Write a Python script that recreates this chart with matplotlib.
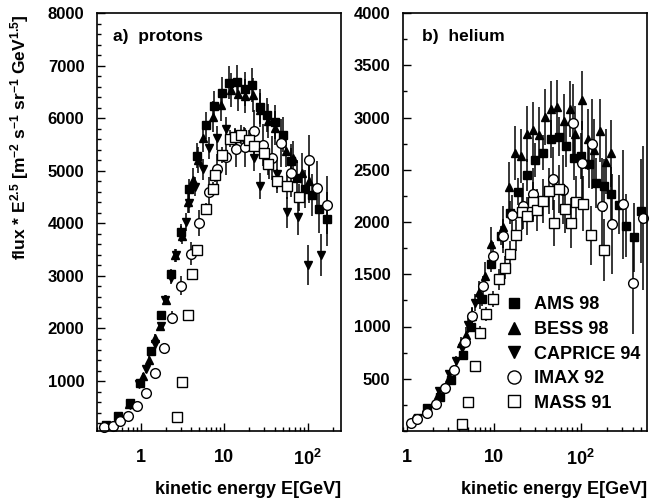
import matplotlib
matplotlib.use('Agg')
import matplotlib.pyplot as plt
from matplotlib.lines import Line2D
from matplotlib.ticker import MultipleLocator, LogLocator, NullFormatter

plt.rcParams['font.family'] = ['Liberation Sans', 'DejaVu Sans']
plt.rcParams['font.weight'] = 'bold'
plt.rcParams['mathtext.fontset'] = 'custom'
plt.rcParams['mathtext.rm'] = 'Liberation Sans:bold'
plt.rcParams['mathtext.bf'] = 'Liberation Sans:bold'
plt.rcParams['mathtext.default'] = 'bf'

# ---- protons ----
ams_p_e = [0.38, 0.54, 0.74, 0.97, 1.34, 1.76, 2.32, 3.05, 3.76, 4.68, 6.06, 7.6, 9.4, 11.4, 14.4,
           17.8, 21.8, 26.7, 32.7, 40.5, 50.4, 62.3, 74.6, 91.8, 113, 137, 170]
ams_p_f = [170, 340, 590, 968, 1579, 2258, 3030, 3843, 4647, 5289, 5862, 6232, 6485, 6673, 6692,
           6553, 6628, 6220, 6062, 5925, 5686, 5183, 4868, 4647, 4541, 4270, 4081]
ams_p_err = [15, 20, 30, 40, 60, 80, 110, 150, 200, 230, 260, 280, 300, 310, 320,
             330, 330, 330, 330, 330, 330, 330, 340, 360, 400, 450, 520]

bess_p_e = [0.55, 0.72, 1.07, 1.26, 1.47, 1.72, 2.02, 2.6, 3.1, 3.66, 4.18, 4.9, 5.6, 7.4, 9.1,
            12.0, 14.5, 17.5, 22.2, 27, 33, 41, 55, 66, 86, 103]
bess_p_f = [330, 560, 1094, 1409, 1817, 2050, 2541, 3390, 3750, 4396, 4824, 5200, 5623, 6031, 6251,
            6534, 6450, 6420, 6440, 6150, 5950, 5811, 5383, 5245, 4962, 4805]
bess_p_err = [20, 30, 50, 60, 70, 80, 100, 130, 150, 200, 230, 250, 270, 290, 300,
              320, 320, 330, 330, 320, 320, 320, 320, 330, 380, 420]

caprice_p_e = [0.74, 0.95, 1.17, 1.47, 1.76, 1.98, 2.32, 2.66, 3.05, 3.5, 3.83, 4.5, 5.5, 6.5, 8.1,
               10.6, 13.5, 17.3, 22.8, 26.7, 34, 43, 56.8, 76.5, 101, 145]
caprice_p_f = [547, 938, 1220, 1700, 2038, 2541, 2962, 3390, 3800, 4032, 4383, 4700, 5025, 5434, 5623,
               5798, 5560, 5590, 5245, 4711, 5119, 4930, 4208, 4113, 3200, 3400]
caprice_p_err = [30, 50, 60, 80, 90, 100, 120, 130, 150, 170, 180, 190, 200, 210, 220,
                 230, 230, 240, 250, 250, 270, 280, 300, 330, 380, 400]

imax_p_e = [0.36, 0.46, 0.56, 0.71, 0.9, 1.15, 1.47, 1.88, 2.38, 3.05, 4.0, 5.04, 6.5, 8.3, 10.6,
            13.8, 17.8, 22.8, 29.1, 37.6, 47.8, 62.3, 103, 130, 170]
imax_p_f = [119, 151, 232, 340, 528, 779, 1157, 1628, 2208, 2811, 3421, 4006, 4604, 5025, 5258,
            5421, 5447, 5760, 5485, 5245, 5528, 4962, 5201, 4679, 4345]
imax_p_err = [15, 15, 20, 30, 40, 50, 70, 90, 130, 180, 220, 250, 280, 300, 330,
              350, 370, 390, 400, 420, 450, 470, 480, 500, 550]

mass_p_e = [2.73, 3.14, 3.66, 4.12, 4.68, 6.06, 7.25, 7.8, 9.4, 11.7, 13.5, 15.8, 19.8, 22.8,
            29.9, 33.6, 43, 56.8, 78]
mass_p_f = [320, 987, 2258, 3043, 3485, 4270, 4660, 4918, 5296, 5609, 5647, 5686, 5590, 5466,
            5340, 5132, 4805, 4711, 4491]
mass_p_err = [20, 40, 60, 80, 100, 120, 130, 140, 150, 160, 170, 180, 180, 190,
              200, 210, 220, 240, 260]

# ---- helium ----
ams_he_e = [1.72, 2.4, 3.22, 4.4, 5.5, 7.4, 9.4, 12.2, 15.3, 19.2, 24, 30, 36.7, 45.5, 55.7,
            68.5, 84.6, 102, 124, 151, 185, 225, 277, 335, 408, 500]
ams_he_f = [218, 330, 490, 731, 1000, 1260, 1596, 1868, 2087, 2288, 2449, 2593, 2663, 2795, 2817,
            2730, 2608, 2632, 2551, 2375, 2349, 2269, 2166, 1966, 1856, 2106]
ams_he_err = [15, 20, 30, 40, 50, 60, 70, 90, 110, 130, 150, 160, 170, 180, 190,
              200, 210, 220, 230, 240, 250, 260, 280, 300, 330, 500]

bess_he_e = [1.2, 1.67, 2.25, 3.08, 4.2, 4.73, 5.6, 6.75, 7.9, 9.3, 12.8, 15, 17.5, 20.5, 24.3,
             28.4, 33.5, 39, 45.9, 54, 63.7, 74.8, 86.8, 104.5, 121, 141, 167, 194, 225]
bess_he_f = [122, 218, 346, 507, 843, 923, 1100, 1330, 1484, 1788, 1949, 2334, 2663, 2632, 2843,
             2882, 2834, 3007, 3080, 3099, 2962, 3080, 2843, 3163, 2791, 2689, 2875, 2577, 2657]
bess_he_err = [10, 15, 25, 40, 60, 70, 90, 110, 130, 160, 200, 240, 260, 260, 270,
               270, 270, 270, 270, 260, 260, 270, 270, 280, 290, 300, 300, 310, 320]

caprice_he_e = [1.35, 1.75, 2.36, 3.08, 3.68, 4.33, 5.1, 6.0, 6.9]
caprice_he_f = [125, 215, 382, 548, 666, 798, 1010, 1228, 1262]
caprice_he_err = [15, 20, 30, 40, 50, 60, 70, 80, 90]

imax_he_e = [1.1, 1.32, 1.72, 2.15, 2.77, 3.52, 4.6, 5.6, 7.5, 9.8, 12.8, 16.4, 21.4, 28, 47.7,
             62.3, 81, 104, 136, 176, 229, 303, 398, 519]
imax_he_f = [74, 113, 170, 260, 407, 580, 856, 1099, 1387, 1676, 1868, 2067, 2150, 2269, 2413,
             2310, 2945, 2567, 2747, 2151, 1984, 2170, 1413, 2038]
imax_he_err = [10, 10, 15, 20, 30, 40, 60, 80, 100, 130, 160, 190, 220, 250, 300,
               330, 380, 400, 430, 460, 480, 520, 480, 690]

mass_he_e = [4.33, 5.0, 6.0, 6.9, 8.2, 9.8, 11.5, 13.4, 15.3, 17.9, 20.9, 24.3, 28, 31.7, 37.2,
             42.6, 49.3, 57, 66.4, 77, 88.5, 106, 132, 185]
mass_he_f = [67, 282, 625, 942, 1118, 1262, 1452, 1564, 1690, 1872, 2096, 2055, 2192, 2112, 2201,
             2298, 1990, 2320, 2128, 1990, 2192, 2176, 1872, 1731]
mass_he_err = [10, 20, 40, 60, 70, 80, 100, 110, 130, 150, 170, 180, 190, 200, 210,
               220, 220, 230, 230, 240, 250, 260, 280, 300]

labels = ['AMS 98', 'BESS 98', 'CAPRICE 94', 'IMAX 92', 'MASS 91']
styles = {
    'AMS 98': dict(marker='s', mfc='black', ms=5.5),
    'BESS 98': dict(marker='^', mfc='black', ms=6),
    'CAPRICE 94': dict(marker='v', mfc='black', ms=6),
    'IMAX 92': dict(marker='o', mfc='white', ms=7),
    'MASS 91': dict(marker='s', mfc='white', ms=6.5),
}

protons = {
    'AMS 98': (ams_p_e, ams_p_f, ams_p_err),
    'BESS 98': (bess_p_e, bess_p_f, bess_p_err),
    'CAPRICE 94': (caprice_p_e, caprice_p_f, caprice_p_err),
    'IMAX 92': (imax_p_e, imax_p_f, imax_p_err),
    'MASS 91': (mass_p_e, mass_p_f, mass_p_err),
}
helium = {
    'AMS 98': (ams_he_e, ams_he_f, ams_he_err),
    'BESS 98': (bess_he_e, bess_he_f, bess_he_err),
    'CAPRICE 94': (caprice_he_e, caprice_he_f, caprice_he_err),
    'IMAX 92': (imax_he_e, imax_he_f, imax_he_err),
    'MASS 91': (mass_he_e, mass_he_f, mass_he_err),
}

fig = plt.figure(figsize=(6.57, 5.0), dpi=100)
ax1 = fig.add_axes([97/657, 69/500, 244/657, 418/500])
ax2 = fig.add_axes([403/657, 69/500, 244/657, 418/500])


def draw(ax, data):
    for name in labels:
        e, f, err = data[name]
        ax.errorbar(e, f, yerr=err, fmt='none', ecolor='black', elinewidth=1.1, capsize=0)
    for name in labels:
        e, f, err = data[name]
        st = styles[name]
        ax.plot(e, f, ls='none', marker=st['marker'], ms=st['ms'], mfc=st['mfc'],
                mec='black', mew=1.0, clip_on=False)


def style_axes(ax, xlim, ylim, yticks, yminor):
    ax.set_xscale('log')
    ax.set_xlim(*xlim)
    ax.set_ylim(*ylim)
    ax.set_xticks([1, 10, 100])
    ax.set_xticklabels(['1', '10', '$10^{2}$'])
    ax.xaxis.set_minor_locator(LogLocator(base=10, subs=range(2, 10), numticks=20))
    ax.xaxis.set_minor_formatter(NullFormatter())
    ax.set_yticks(yticks)
    ax.set_yticklabels([str(t) for t in yticks])
    ax.yaxis.set_minor_locator(MultipleLocator(yminor))
    ax.tick_params(which='both', direction='in', top=False, right=False, width=1.0)
    ax.tick_params(which='major', length=6)
    ax.tick_params(which='minor', length=3)
    ax.tick_params(axis='x', which='major', pad=13, labelsize=13)
    ax.tick_params(axis='y', which='major', pad=9, labelsize=12)
    for sp in ax.spines.values():
        sp.set_linewidth(1.2)
    ax.text(1.0, -0.139, 'kinetic energy E[GeV]', transform=ax.transAxes,
            ha='right', va='center', fontsize=13, fontweight='bold')


draw(ax1, protons)
draw(ax2, helium)
style_axes(ax1, (0.3, 250), (50, 8000), [1000, 2000, 3000, 4000, 5000, 6000, 7000, 8000], 200)
style_axes(ax2, (0.9, 580), (0, 4000), [500, 1000, 1500, 2000, 2500, 3000, 3500, 4000], 250)

ax1.text(0.066, 0.943, 'a)  protons', transform=ax1.transAxes, ha='left', va='center',
         fontsize=12.5, fontweight='bold')
ax2.text(0.078, 0.943, 'b)  helium', transform=ax2.transAxes, ha='left', va='center',
         fontsize=12.5, fontweight='bold')

fig.text(20/657, 1 - 14/500,
         r'flux * E$^{2.5}$ [m$^{-2}$ s$^{-1}$ sr$^{-1}$ GeV$^{1.5}$]',
         rotation=90, ha='center', va='top', fontsize=12.5, fontweight='bold')

handles = [Line2D([], [], ls='none', marker=styles[n]['marker'], ms=styles[n]['ms'] * 1.35,
                  mfc=styles[n]['mfc'], mec='black', mew=1.0) for n in labels]
ax2.legend(handles, labels, loc='upper left', bbox_to_anchor=(0.417, 0.322),
           frameon=False, fontsize=13, handlelength=1.0, handletextpad=0.6,
           labelspacing=0.42, borderpad=0, borderaxespad=0)

fig.savefig('out.png', dpi=100)
